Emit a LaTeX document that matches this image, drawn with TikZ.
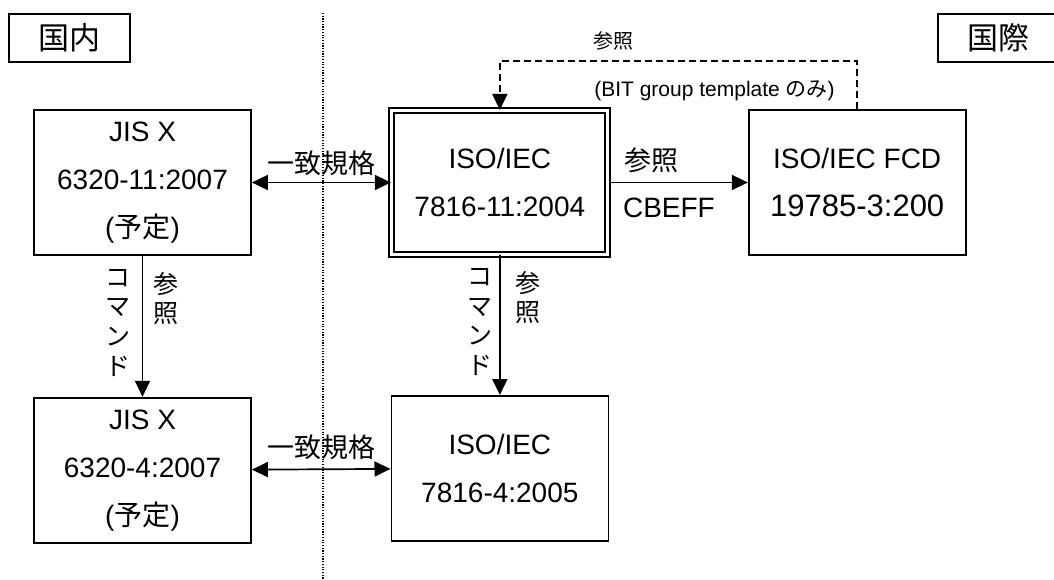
\documentclass[tikz,border=0pt]{standalone}
\usepackage{fontspec}
\setmainfont{Liberation Sans}
\newfontfamily\jpfont{Noto Sans CJK JP}
\newcommand{\ja}[1]{{\jpfont #1}}
\usetikzlibrary{arrows.meta,positioning}

\begin{document}
\begin{tikzpicture}[x=1pt,y=-1pt,
    node distance=140pt,
    std/.style={draw,line width=1.7pt,minimum width=217pt,minimum height=145pt,
      align=center,execute at begin node={\rule{0pt}{30pt}},
      font=\fontsize{28}{48}\selectfont},
    mainstd/.style={std,double,line width=2pt,double distance=3pt,
      minimum width=216pt,minimum height=143pt},
    tag/.style={draw,line width=1.7pt,minimum width=121pt,minimum height=48pt,
      font=\jpfont\fontsize{31}{31}\selectfont},
    arr/.style={-{Triangle[length=16pt,width=15pt]},line width=1.7pt},
    both/.style={{Triangle[length=16pt,width=15pt]}-{Triangle[length=16pt,width=15pt]},line width=1.7pt},
    refarr/.style={arr,dash pattern=on 7pt off 4pt},
    jlbl/.style={font=\jpfont\fontsize{27}{27}\selectfont},
    vlbl/.style={align=center,font=\jpfont\fontsize{25}{29.7}\selectfont},
    note/.style={font=\fontsize{21}{21}\selectfont}
  ]
  \useasboundingbox (0,0) rectangle (1054,580);
  % domestic | international
  \draw[line width=1.2pt,dash pattern=on 1.2pt off 1.5pt] (323,13) -- (323,580);
  \node[tag] (kokunai) at (69.5,38) {国内};
  \node[tag] (kokusai) at (998.5,38) {国際};

  % standards
  \node[std] (jis11) at (142.5,182.5) {JIS X\\6320-11:2007\\(\ja{予定})};
  \node[mainstd,right=139pt of jis11] (iso11) {ISO/IEC\\7816-11:2004};
  \node[std,right=139pt of iso11] (fcd) {ISO/IEC FCD\\{\fontsize{31}{48}\selectfont 19785-3:200}};
  \node[std,below=141pt of jis11] (jis4) {JIS X\\6320-4:2007\\(\ja{予定})};
  \node[std,below=140pt of iso11] (iso4) {ISO/IEC\\7816-4:2005};

  % links
  \draw[both] (jis11) -- (iso11) node[jlbl,midway,above=3pt] (match1) {一致規格};
  \draw[arr] (iso11) -- (fcd)
    node[jlbl,pos=0,above right=5pt and 11pt] (refcb) {参照}
    node[pos=0,below right=11pt and 10pt,font=\fontsize{28}{28}\selectfont] (cbeff) {CBEFF};
  \draw[arr] (jis11) -- (jis4)
    node[vlbl,pos=0,below left=9pt and 8pt] (cmd1) {コ\\マ\\ン\\ド}
    node[vlbl,pos=0,below right=12pt and 7pt] (ref1) {参\\照};
  \draw[arr] (iso11) -- (iso4)
    node[vlbl,pos=0,below left=9pt and 3pt] (cmd2) {コ\\マ\\ン\\ド}
    node[vlbl,pos=0,below right=12pt and 11pt] (ref2) {参\\照};
  \draw[both] (jis4) -- (iso4) node[jlbl,midway,above=5pt] (match2) {一致規格};
  \draw[refarr] (fcd.north) -- ++(0,-48) -| (iso11.north);
  \node[font=\jpfont\fontsize{20}{20}\selectfont] (refnote) at (613,41) {参照};
  \node[note] (bitnote) at (714.5,91) {(BIT group template \ja{のみ})};
\end{tikzpicture}
\end{document}
